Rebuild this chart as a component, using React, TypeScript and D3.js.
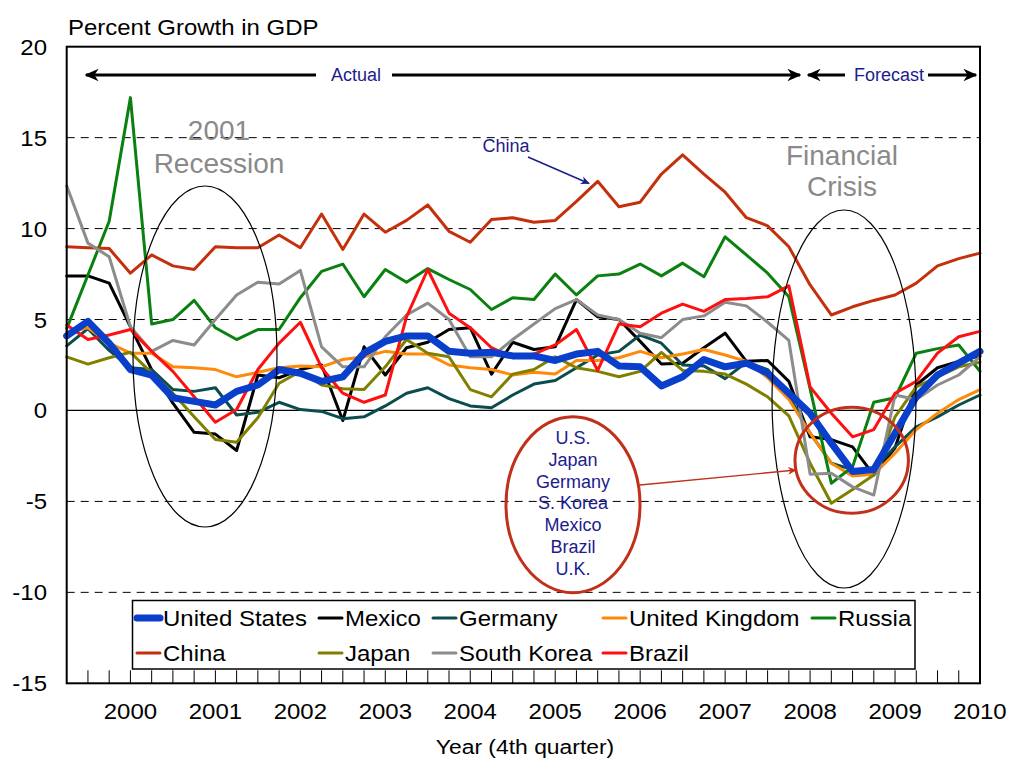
import React, { useEffect, useRef } from 'react';
import * as d3 from 'd3';

// quarterly data, 2000 Q1 .. 2010 Q4 (44 quarters)
const yearLabels = ['2000', '2001', '2002', '2003', '2004', '2005', '2006', '2007', '2008', '2009', '2010'];
const yTicks = [20, 15, 10, 5, 0, -5, -10, -15];

const unitedStates = [4.1, 4.9, 3.7, 2.25, 1.95, 0.7, 0.5, 0.3, 1.05, 1.4, 2.25, 2.05, 1.6, 1.85, 3.15, 3.8, 4.1, 4.1, 3.25, 3.15, 3.2, 3.0, 3.0, 2.75, 3.1, 3.25, 2.45, 2.4, 1.35, 1.85, 2.8, 2.4, 2.6, 2.05, 0.95, -0.15, -1.8, -3.35, -3.25, -1.25, 0.75, 1.95, 2.6, 3.25];
const mexico = [7.4, 7.4, 7.0, 4.6, 2.25, 0.4, -1.2, -1.3, -2.2, 1.95, 1.8, 2.25, 2.5, -0.55, 3.5, 1.95, 3.45, 3.75, 4.45, 4.55, 2.0, 3.75, 3.35, 3.5, 6.1, 5.15, 5.0, 3.8, 2.55, 2.6, 3.45, 4.25, 2.7, 2.75, 1.6, -1.45, -1.6, -2.0, -3.55, -2.05, 1.4, 2.35, 2.7, 3.0];
const germany = [3.55, 4.5, 3.3, 2.35, 2.25, 1.15, 1.05, 1.25, -0.25, -0.1, 0.45, 0.05, -0.05, -0.45, -0.35, 0.25, 0.95, 1.25, 0.65, 0.25, 0.15, 0.85, 1.45, 1.65, 2.35, 3.05, 3.25, 4.15, 3.7, 2.5, 2.45, 1.75, 2.65, 2.25, 0.8, -1.25, -2.9, -3.25, -3.25, -2.0, -0.9, -0.35, 0.3, 0.85];
const unitedKingdom = [4.3, 4.55, 3.7, 3.15, 3.15, 2.4, 2.35, 2.25, 1.85, 2.1, 2.35, 2.45, 2.4, 2.8, 2.95, 3.25, 3.1, 3.1, 2.5, 2.35, 2.25, 1.95, 2.1, 2.0, 2.75, 2.75, 2.9, 3.25, 2.9, 3.1, 3.35, 3.05, 2.7, 1.8, 0.6, -1.25, -2.9, -3.6, -3.5, -2.35, -1.05, -0.15, 0.6, 1.15];
const russia = [4.5, 7.45, 10.4, 17.2, 4.75, 5.0, 6.05, 4.55, 3.9, 4.45, 4.45, 6.2, 7.65, 8.05, 6.25, 7.75, 7.05, 7.8, 7.2, 6.65, 5.55, 6.2, 6.1, 7.5, 6.35, 7.4, 7.5, 8.05, 7.4, 8.1, 7.35, 9.55, 8.55, 7.55, 6.25, 1.2, -4.0, -3.1, 0.45, 0.7, 3.15, 3.4, 3.6, 2.15];
const china = [9.0, 8.95, 8.9, 7.55, 8.55, 7.95, 7.75, 9.0, 8.95, 8.95, 9.65, 8.95, 10.8, 8.85, 10.8, 9.8, 10.45, 11.3, 9.85, 9.25, 10.5, 10.6, 10.35, 10.45, 11.5, 12.6, 11.2, 11.45, 13.0, 14.05, 13.0, 12.0, 10.6, 10.15, 9.0, 6.9, 5.25, 5.7, 6.05, 6.35, 7.0, 7.95, 8.35, 8.65];
const japan = [2.95, 2.55, 2.9, 3.2, 2.05, 0.95, -0.35, -1.6, -1.75, -0.4, 1.5, 2.15, 1.4, 1.2, 1.15, 2.4, 3.9, 3.15, 2.95, 1.15, 0.75, 2.0, 2.25, 2.95, 2.35, 2.15, 1.85, 2.15, 3.2, 2.2, 2.15, 2.0, 1.45, 0.75, -0.3, -2.9, -5.1, -4.35, -3.55, -0.35, 1.3, 1.85, 2.4, 2.65];
const southKorea = [12.35, 9.2, 8.45, 4.6, 3.25, 3.85, 3.6, 5.0, 6.35, 7.05, 6.95, 7.7, 3.5, 2.4, 2.4, 4.05, 5.25, 5.9, 5.0, 2.95, 2.95, 3.9, 4.75, 5.6, 6.1, 5.25, 5.0, 4.25, 4.0, 5.0, 5.2, 5.95, 5.75, 4.85, 3.85, -3.5, -3.45, -4.2, -4.65, 0.85, 0.6, 1.4, 1.95, 2.95];
const brazil = [4.7, 3.9, 4.15, 4.45, 3.25, 2.15, 0.75, -0.65, 0.05, 2.25, 3.7, 4.85, 2.35, 0.95, 0.45, 0.85, 5.15, 7.75, 5.35, 4.55, 3.45, 2.9, 3.1, 3.6, 4.45, 2.2, 4.75, 4.6, 5.35, 5.85, 5.45, 6.1, 6.15, 6.25, 6.85, 1.3, -0.15, -1.45, -1.05, 0.95, 1.6, 3.15, 4.05, 4.35];

const countries = ['United States', 'Mexico', 'Germany', 'United Kingdom', 'Russia', 'China', 'Japan', 'South Korea', 'Brazil'];
const seriesValues = [unitedStates, mexico, germany, unitedKingdom, russia, china, japan, southKorea, brazil];
const crisisList = ['U.S.', 'Japan', 'Germany', 'S. Korea', 'Mexico', 'Brazil', 'U.K.'];

const FONT = 'Liberation Sans, Arial, Helvetica, sans-serif';
const NAVY = '#1c1c8e';
const DARKRED = '#c0301a';

export default function App() {
    const svgRef = useRef<SVGSVGElement>(null);

    useEffect(() => {
        const svg = d3.select(svgRef.current);
        svg.selectAll('*').remove();

        const width = 1011;
        const height = 761;
        const margin = { top: 46.7, right: 31, bottom: 77.7, left: 66.7 };

        const colors: Record<string, string> = {
            'United States': '#0a3fcc',
            'Mexico': '#000000',
            'Germany': '#0b4d4d',
            'United Kingdom': '#ff8a0a',
            'Russia': '#0a8010',
            'China': '#c4300c',
            'Japan': '#808000',
            'South Korea': '#8c8c8c',
            'Brazil': '#ff1010',
        };
        const widths: Record<string, number> = { 'United States': 7 };

        const n = unitedStates.length;
        const x = d3.scaleLinear().domain([0, n - 1]).range([margin.left, width - margin.right]);
        const y = d3.scaleLinear().domain([-15, 20]).range([height - margin.bottom, margin.top]);

        // chart text is drawn a little wide in the original
        const stext = (px: number, py: number, str: string, size: number, anchor = 'start', fill = '#000') =>
            svg.append('text')
                .attr('transform', `translate(${px},${py}) scale(1.09,1)`)
                .attr('text-anchor', anchor)
                .attr('font-family', FONT)
                .attr('font-size', size)
                .attr('fill', fill)
                .text(str);

        const text = (px: number, py: number, str: string, size: number, fill: string, anchor = 'middle') =>
            svg.append('text')
                .attr('x', px)
                .attr('y', py)
                .attr('text-anchor', anchor)
                .attr('font-family', FONT)
                .attr('font-size', size)
                .attr('fill', fill)
                .text(str);

        // markers
        const defs = svg.append('defs');
        const marker = (id: string, color: string, size: number) => {
            defs.append('marker')
                .attr('id', id)
                .attr('viewBox', '0 0 10 10')
                .attr('refX', 9)
                .attr('refY', 5)
                .attr('markerUnits', 'userSpaceOnUse')
                .attr('markerWidth', size)
                .attr('markerHeight', size)
                .attr('orient', 'auto-start-reverse')
                .append('path')
                .attr('d', 'M0,0.5 L10,5 L0,9.5 L3,5 Z')
                .attr('fill', color);
        };
        marker('arrowBlack', '#000', 14);
        marker('arrowNavy', NAVY, 9);
        marker('arrowRed', DARKRED, 9);

        // grid
        const grid = svg.append('g');
        [15, 10, 5, -5, -10].forEach((v) => {
            grid.append('line')
                .attr('x1', x(0)).attr('x2', x(n - 1))
                .attr('y1', y(v)).attr('y2', y(v))
                .attr('stroke', '#000')
                .attr('stroke-width', 1)
                .attr('stroke-dasharray', '8,6');
        });
        grid.append('line')
            .attr('x1', x(0)).attr('x2', x(n - 1))
            .attr('y1', y(0)).attr('y2', y(0))
            .attr('stroke', '#000')
            .attr('stroke-width', 1.3);

        // series (US on top)
        const line = d3.line<number>()
            .x((_, i) => x(i))
            .y((d) => y(d));
        const order = [1, 2, 3, 4, 5, 6, 7, 8, 0];
        order.forEach((k) => {
            const name = countries[k];
            svg.append('path')
                .datum(seriesValues[k])
                .attr('d', line)
                .attr('fill', 'none')
                .attr('stroke', colors[name])
                .attr('stroke-width', widths[name] || 3)
                .attr('stroke-linejoin', 'round')
                .attr('stroke-linecap', 'round');
        });

        // frame + ticks
        svg.append('rect')
            .attr('x', x(0)).attr('y', y(20))
            .attr('width', x(n - 1) - x(0))
            .attr('height', y(-15) - y(20))
            .attr('fill', 'none')
            .attr('stroke', '#000')
            .attr('stroke-width', 2);

        const ticks = svg.append('g');
        d3.range(1, n - 1).forEach((i) => {
            ticks.append('line')
                .attr('x1', x(i)).attr('x2', x(i))
                .attr('y1', y(-15)).attr('y2', y(-15) - 13)
                .attr('stroke', '#000')
                .attr('stroke-width', 1);
        });

        yTicks.forEach((v) => {
            stext(47, y(v) + 8, String(v), 22, 'end');
        });
        yearLabels.forEach((lab, k) => {
            stext(x(3 + 4 * k), 719, lab, 22, 'middle');
        });

        stext(68, 35, 'Percent Growth in GDP', 22);
        stext(525, 754, 'Year (4th quarter)', 21, 'middle');

        // legend
        svg.append('rect')
            .attr('x', 132.5).attr('y', 600.5)
            .attr('width', 782.5).attr('height', 68.5)
            .attr('fill', '#fff')
            .attr('stroke', '#000')
            .attr('stroke-width', 1.5);
        const colX = [137, 319, 433, 603, 812];
        const rowY = [618, 653];
        countries.forEach((name, k) => {
            const row = k < 5 ? 0 : 1;
            const col = k < 5 ? k : k - 5;
            const lx = colX[col];
            const ly = rowY[row];
            svg.append('line')
                .attr('x1', lx).attr('x2', lx + 23)
                .attr('y1', ly).attr('y2', ly)
                .attr('stroke', colors[name])
                .attr('stroke-width', widths[name] || 3)
                .attr('stroke-linecap', 'round');
            stext(lx + 26, ly + 8, name, 22);
        });

        // actual / forecast arrows
        const arrowY = 75;
        const arrow = (x1: number, x2: number, head: 'start' | 'end') => {
            const l = svg.append('line')
                .attr('x1', x1).attr('x2', x2)
                .attr('y1', arrowY).attr('y2', arrowY)
                .attr('stroke', '#000')
                .attr('stroke-width', 3);
            l.attr(head === 'start' ? 'marker-start' : 'marker-end', 'url(#arrowBlack)');
        };
        arrow(86, 316, 'start');
        arrow(392, 800, 'end');
        arrow(808, 845, 'start');
        arrow(928, 976, 'end');
        text(356, arrowY + 6, 'Actual', 18, NAVY);
        text(889, arrowY + 6, 'Forecast', 18, NAVY);

        // recession annotation
        text(219, 140, '2001', 28, '#8a8a8a');
        text(219, 173, 'Recession', 28, '#8a8a8a');
        svg.append('ellipse')
            .attr('cx', 205).attr('cy', 356.5)
            .attr('rx', 72).attr('ry', 170.5)
            .attr('fill', 'none')
            .attr('stroke', '#000')
            .attr('stroke-width', 1.2);

        // financial crisis annotation
        text(842, 165, 'Financial', 28, '#8a8a8a');
        text(842, 196, 'Crisis', 28, '#8a8a8a');
        svg.append('ellipse')
            .attr('cx', 844).attr('cy', 399)
            .attr('rx', 72).attr('ry', 189)
            .attr('fill', 'none')
            .attr('stroke', '#000')
            .attr('stroke-width', 1.2);

        // china label
        text(506, 152, 'China', 18, NAVY);
        svg.append('line')
            .attr('x1', 528).attr('y1', 157)
            .attr('x2', 589).attr('y2', 183.5)
            .attr('stroke', NAVY)
            .attr('stroke-width', 1.5)
            .attr('marker-end', 'url(#arrowNavy)');

        // crisis countries list
        svg.append('ellipse')
            .attr('cx', 573).attr('cy', 504.7)
            .attr('rx', 67).attr('ry', 88)
            .attr('fill', 'none')
            .attr('stroke', DARKRED)
            .attr('stroke-width', 3);
        crisisList.forEach((s, k) => {
            text(573, 444 + k * 21.8, s, 18, NAVY);
        });
        svg.append('line')
            .attr('x1', 640).attr('y1', 485)
            .attr('x2', 796).attr('y2', 470)
            .attr('stroke', DARKRED)
            .attr('stroke-width', 1.3)
            .attr('marker-end', 'url(#arrowRed)');
        svg.append('ellipse')
            .attr('cx', 851.7).attr('cy', 460.3)
            .attr('rx', 56.7).attr('ry', 53)
            .attr('fill', 'none')
            .attr('stroke', DARKRED)
            .attr('stroke-width', 3);
    }, []);

    return (
        <svg
            ref={svgRef}
            width={1011}
            height={761}
            style={{ position: 'absolute', left: 0, top: 0, background: '#fff' }}
        />
    );
}
